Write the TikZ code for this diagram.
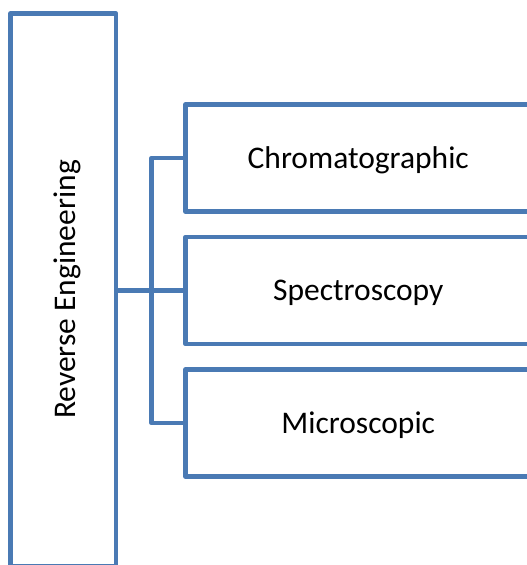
\documentclass[tikz,border=0pt]{standalone}
\usepackage{fontspec}
\setmainfont{Carlito}
\definecolor{reblue}{RGB}{74, 122, 180}

\begin{document}
\begin{tikzpicture}[
    x=1pt, y=-1pt,
    lbl/.style={font=\fontsize{31.5}{37}\selectfont, text height=20pt, text depth=0pt},
    box/.style={draw=reblue, line width=4.6pt, line join=round, inner sep=0pt, lbl},
    method/.style={box, minimum width=345.5pt, minimum height=107pt},
    link/.style={draw=reblue, line width=4.6pt, line join=round},
]

% canvas
\clip (0,0) rectangle (527,565);

% ================================================================
% MAIN BOX
% ================================================================
\node[box, minimum width=105.5pt, minimum height=553pt] (re) at (63.25, 290) {};
\node[lbl, rotate=90, inner sep=0pt] (relbl) at (65, 289.5) {Reverse Engineering};

% ================================================================
% METHOD BOXES
% ================================================================
\node[method] (chrom) at (358.25, 158) {Chromatographic};
\node[method] (spec)  at (358.25, 290.5) {Spectroscopy};
\node[method] (micro) at (358.25, 423) {Microscopic};

% ================================================================
% CONNECTORS
% ================================================================
\coordinate (bus) at (151.5, 290.5);
\draw[link] (re.east |- spec.west) -- (spec.west);
\draw[link] (chrom.west) -| (bus) |- (micro.west);

\end{tikzpicture}
\end{document}
